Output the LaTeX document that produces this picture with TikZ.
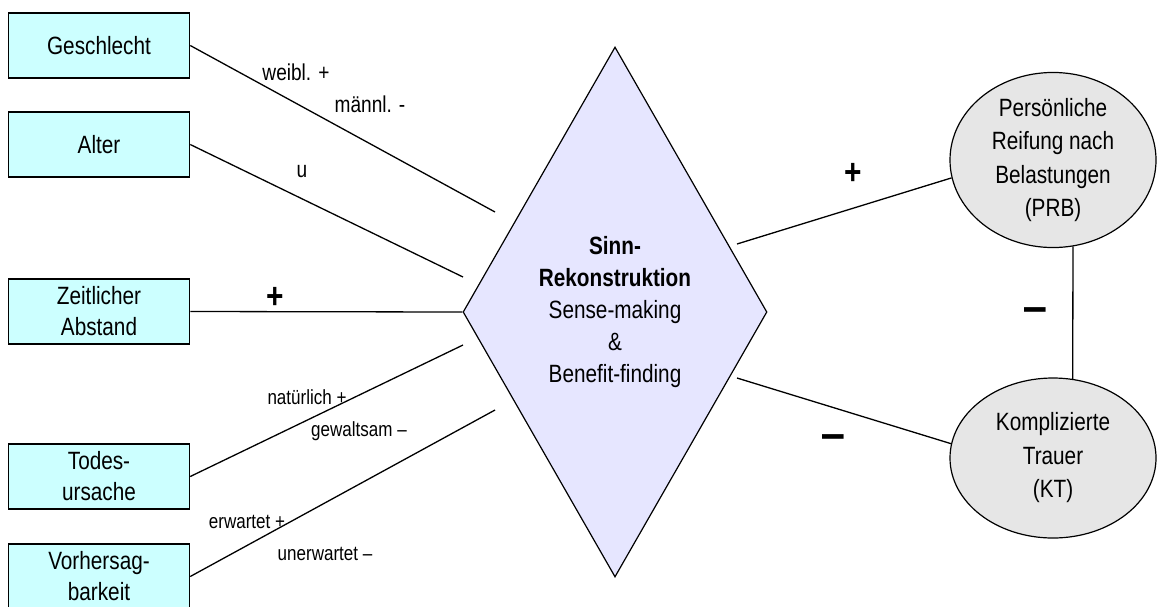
\documentclass[tikz,border=0pt]{standalone}
\usepackage{fontspec}
\setmainfont[FakeStretch=0.83]{Liberation Sans}
\usetikzlibrary{shapes.geometric}
\definecolor{boxfill}{RGB}{204,255,255}
\definecolor{diafill}{RGB}{230,230,255}
\definecolor{ellfill}{RGB}{230,230,230}
\newcommand{\boldbar}{\scalebox{1}[1.8]{—}}
\begin{document}
\begin{tikzpicture}[x=1pt,y=-1pt,
  factor/.style={draw=black, line width=1.5pt, fill=boxfill, minimum width=181pt,
    minimum height=65pt, inner sep=0pt, align=center, font=\fontsize{25}{31}\selectfont},
  outcome/.style={ellipse, draw, line width=1.2pt, fill=ellfill, minimum width=206pt,
    inner sep=0pt, align=center, font=\fontsize{25}{33.5}\selectfont},
  core/.style={diamond, draw, line width=1.2pt, fill=diafill, minimum width=304pt,
    minimum height=530pt, aspect=0.57, inner sep=0pt, align=center,
    font=\fontsize{25}{32}\selectfont},
  link/.style={line width=1.3pt},
  biglabel/.style={font=\fontsize{23}{27}\selectfont, inner sep=0pt},
  smalllabel/.style={font=\fontsize{20.5}{24}\selectfont, inner sep=0pt},
  sign/.style={font=\fontsize{36}{36}\selectfont\bfseries, inner sep=0pt},
  negsign/.style={font=\fontsize{26}{26}\selectfont\bfseries, inner sep=0pt}]
\useasboundingbox (0,0) rectangle (1158,606);
\clip (0,0) rectangle (1158,606);

% predictors
\node[factor] (ges)  at (99,45.5)  {Geschlecht};
\node[factor] (alt)  at (99,144.5) {Alter};
\node[factor] (zeit) at (99,311.5) {Zeitlicher\\Abstand};
\node[factor] (tod)  at (99,476.5) {Todes-\\ursache};
\node[factor] (vor)  at (99,576.5) {Vorhersag-\\barkeit};

% mediator
\node[core] (core) at (615,312)
  {\textbf{Sinn-}\\\textbf{Rekonstruktion}\\Sense-making\\\&\\Benefit-finding};

% outcomes
\node[outcome, minimum height=166pt] (prb) at (1053,160)
  {Persönliche\\Reifung nach\\Belastungen\\(PRB)};
\node[outcome, minimum height=160pt] (kt) at (1053,458)
  {Komplizierte\\Trauer\\(KT)};

% free ends of the connectors near the diamond
\coordinate (g-end) at (495,212);
\coordinate (a-end) at (463,277);
\coordinate (t-end) at (463,345);
\coordinate (v-end) at (495,410);
\coordinate (p-start) at (737,244);
\coordinate (k-start) at (737,378);

\draw[link] (ges.east) -- (g-end);
\draw[link] (alt.east) -- (a-end);
\draw[link] (zeit.east) -- (core.west);
\draw[link] (tod.east) -- (t-end);
\draw[link] (vor.east) -- (v-end);
\draw[link] (p-start) -- (prb.190);
\draw[link] (k-start) -- (kt.172);
\draw[link] (prb.283) -- (kt.76);

% connector labels
\node[biglabel] (lw) at (296,72) {weibl. +};
\node[biglabel] (lm) at (370,104) {männl. -};
\node[biglabel] (lu) at (302,172) {u};
\node[sign] (lz) at (275,298) {+};
\node[smalllabel] (ln) at (307,397) {natürlich +};
\node[smalllabel] (lg) at (359,431) {gewaltsam –};
\node[smalllabel] (le) at (247,522) {erwartet +};
\node[smalllabel] (lun) at (325,554) {unerwartet –};
\node[sign] (lp) at (853,174) {+};
\node[negsign] (lk) at (833,442) {\boldbar};
\node[negsign] (lpk) at (1035,315) {\boldbar};
\end{tikzpicture}
\end{document}
